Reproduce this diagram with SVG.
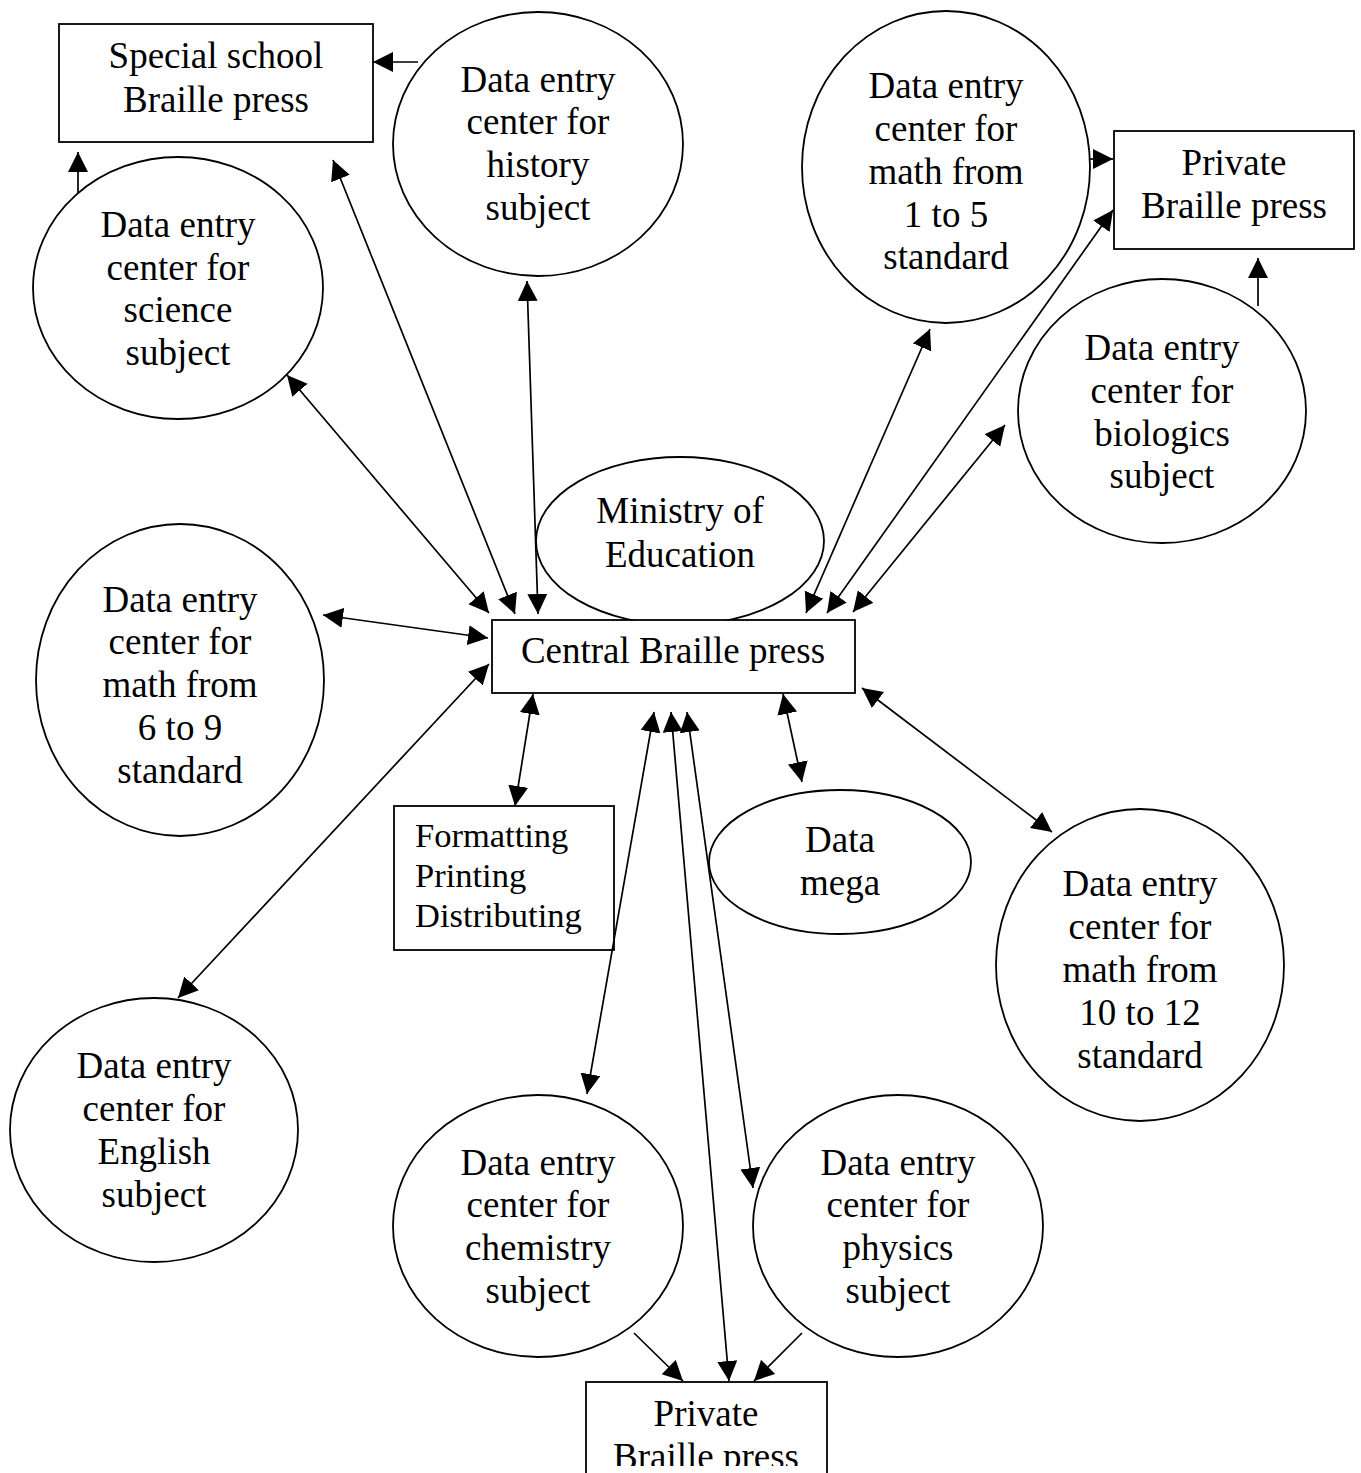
<svg xmlns="http://www.w3.org/2000/svg" width="1361" height="1473" viewBox="0 0 1361 1473">
<style>
.n{fill:#fff;stroke:#000;stroke-width:1.8}
.t{font-family:"Liberation Serif","Times New Roman",serif;font-size:37px;fill:#000;text-anchor:middle}
.f{font-family:"Liberation Serif","Times New Roman",serif;font-size:34.5px;fill:#000}
.c line{stroke:#000;stroke-width:1.7;fill:none}
</style>
<defs>
<marker id="ah" markerUnits="userSpaceOnUse" markerWidth="21" markerHeight="21" refX="20" refY="10" orient="auto-start-reverse" viewBox="0 0 21 21"><path d="M0,0 L20,10 L0,20 z" fill="#000"/></marker>
<clipPath id="clipB"><rect x="0" y="0" width="1361" height="1466"/></clipPath>
</defs>
<rect width="1361" height="1473" fill="#fff"/>

<g id="ministry">
<ellipse class="n" cx="680" cy="541" rx="144" ry="84"/>
<text class="t" x="680" y="523">Ministry of</text>
<text class="t" x="680" y="567">Education</text>
</g>

<g id="special-school">
<rect class="n" x="59" y="24" width="314" height="118"/>
<text class="t" x="216" y="68">Special school</text>
<text class="t" x="216" y="112">Braille press</text>
</g>

<g id="history">
<ellipse class="n" cx="538" cy="144" rx="145" ry="132"/>
<text class="t" x="538" y="92">Data entry</text>
<text class="t" x="538" y="134">center for</text>
<text class="t" x="538" y="177">history</text>
<text class="t" x="538" y="220">subject</text>
</g>

<g id="science">
<ellipse class="n" cx="178" cy="288" rx="145" ry="131"/>
<text class="t" x="178" y="237">Data entry</text>
<text class="t" x="178" y="280">center for</text>
<text class="t" x="178" y="322">science</text>
<text class="t" x="178" y="365">subject</text>
</g>

<g id="math-1-5">
<ellipse class="n" cx="946" cy="167" rx="144" ry="156"/>
<text class="t" x="946" y="98">Data entry</text>
<text class="t" x="946" y="141">center for</text>
<text class="t" x="946" y="184">math from</text>
<text class="t" x="946" y="227">1 to 5</text>
<text class="t" x="946" y="269">standard</text>
</g>

<g id="private-top">
<rect class="n" x="1114" y="131" width="240" height="118"/>
<text class="t" x="1234" y="175">Private</text>
<text class="t" x="1234" y="218">Braille press</text>
</g>

<g id="biologics">
<ellipse class="n" cx="1162" cy="411" rx="144" ry="132"/>
<text class="t" x="1162" y="360">Data entry</text>
<text class="t" x="1162" y="403">center for</text>
<text class="t" x="1162" y="446">biologics</text>
<text class="t" x="1162" y="488">subject</text>
</g>

<g id="central">
<rect class="n" x="492" y="620" width="363" height="73"/>
<text class="t" x="673" y="663">Central Braille press</text>
</g>

<g id="math-6-9">
<ellipse class="n" cx="180" cy="680" rx="144" ry="156"/>
<text class="t" x="180" y="612">Data entry</text>
<text class="t" x="180" y="654">center for</text>
<text class="t" x="180" y="697">math from</text>
<text class="t" x="180" y="740">6 to 9</text>
<text class="t" x="180" y="783">standard</text>
</g>

<g id="formatting">
<rect class="n" x="394" y="806" width="220" height="144"/>
<text class="f" x="415" y="847">Formatting</text>
<text class="f" x="415" y="887">Printing</text>
<text class="f" x="415" y="927">Distributing</text>
</g>

<g id="data-mega">
<ellipse class="n" cx="840" cy="862" rx="131" ry="72"/>
<text class="t" x="840" y="852">Data</text>
<text class="t" x="840" y="895">mega</text>
</g>

<g id="math-10-12">
<ellipse class="n" cx="1140" cy="965" rx="144" ry="156"/>
<text class="t" x="1140" y="896">Data entry</text>
<text class="t" x="1140" y="939">center for</text>
<text class="t" x="1140" y="982">math from</text>
<text class="t" x="1140" y="1025">10 to 12</text>
<text class="t" x="1140" y="1068">standard</text>
</g>

<g id="english">
<ellipse class="n" cx="154" cy="1130" rx="144" ry="132"/>
<text class="t" x="154" y="1078">Data entry</text>
<text class="t" x="154" y="1121">center for</text>
<text class="t" x="154" y="1164">English</text>
<text class="t" x="154" y="1207">subject</text>
</g>

<g id="chemistry">
<ellipse class="n" cx="538" cy="1226" rx="145" ry="131"/>
<text class="t" x="538" y="1175">Data entry</text>
<text class="t" x="538" y="1217">center for</text>
<text class="t" x="538" y="1260">chemistry</text>
<text class="t" x="538" y="1303">subject</text>
</g>

<g id="physics">
<ellipse class="n" cx="898" cy="1226" rx="145" ry="131"/>
<text class="t" x="898" y="1175">Data entry</text>
<text class="t" x="898" y="1217">center for</text>
<text class="t" x="898" y="1260">physics</text>
<text class="t" x="898" y="1303">subject</text>
</g>

<g id="private-bottom">
<rect class="n" x="586" y="1382" width="241" height="120"/>
<g clip-path="url(#clipB)">
<text class="t" x="706" y="1426">Private</text>
<text class="t" x="706" y="1469">Braille press</text>
</g>
</g>

<g id="connectors" class="c">
<line x1="418" y1="62" x2="373" y2="62" marker-end="url(#ah)"/>
<line x1="78" y1="193" x2="78" y2="152" marker-end="url(#ah)"/>
<line x1="333" y1="160" x2="515" y2="614" marker-start="url(#ah)" marker-end="url(#ah)"/>
<line x1="527" y1="281" x2="538" y2="614" marker-start="url(#ah)" marker-end="url(#ah)"/>
<line x1="287" y1="375" x2="489" y2="613" marker-start="url(#ah)" marker-end="url(#ah)"/>
<line x1="323" y1="615" x2="488" y2="638" marker-start="url(#ah)" marker-end="url(#ah)"/>
<line x1="178" y1="998" x2="489" y2="664" marker-start="url(#ah)" marker-end="url(#ah)"/>
<line x1="533" y1="694" x2="515" y2="806" marker-start="url(#ah)" marker-end="url(#ah)"/>
<line x1="654" y1="712" x2="587" y2="1094" marker-start="url(#ah)" marker-end="url(#ah)"/>
<line x1="671" y1="712" x2="729" y2="1381" marker-start="url(#ah)" marker-end="url(#ah)"/>
<line x1="687" y1="712" x2="753" y2="1188" marker-start="url(#ah)" marker-end="url(#ah)"/>
<line x1="783" y1="694" x2="802" y2="782" marker-start="url(#ah)" marker-end="url(#ah)"/>
<line x1="862" y1="688" x2="1052" y2="832" marker-start="url(#ah)" marker-end="url(#ah)"/>
<line x1="930" y1="329" x2="806" y2="613" marker-start="url(#ah)" marker-end="url(#ah)"/>
<line x1="1113" y1="210" x2="827" y2="613" marker-start="url(#ah)" marker-end="url(#ah)"/>
<line x1="1005" y1="425" x2="853" y2="612" marker-start="url(#ah)" marker-end="url(#ah)"/>
<line x1="1089" y1="159" x2="1113" y2="159" marker-end="url(#ah)"/>
<line x1="1258" y1="306" x2="1258" y2="258" marker-end="url(#ah)"/>
<line x1="634" y1="1333" x2="683" y2="1381" marker-end="url(#ah)"/>
<line x1="802" y1="1333" x2="754" y2="1381" marker-end="url(#ah)"/>
</g>
</svg>
